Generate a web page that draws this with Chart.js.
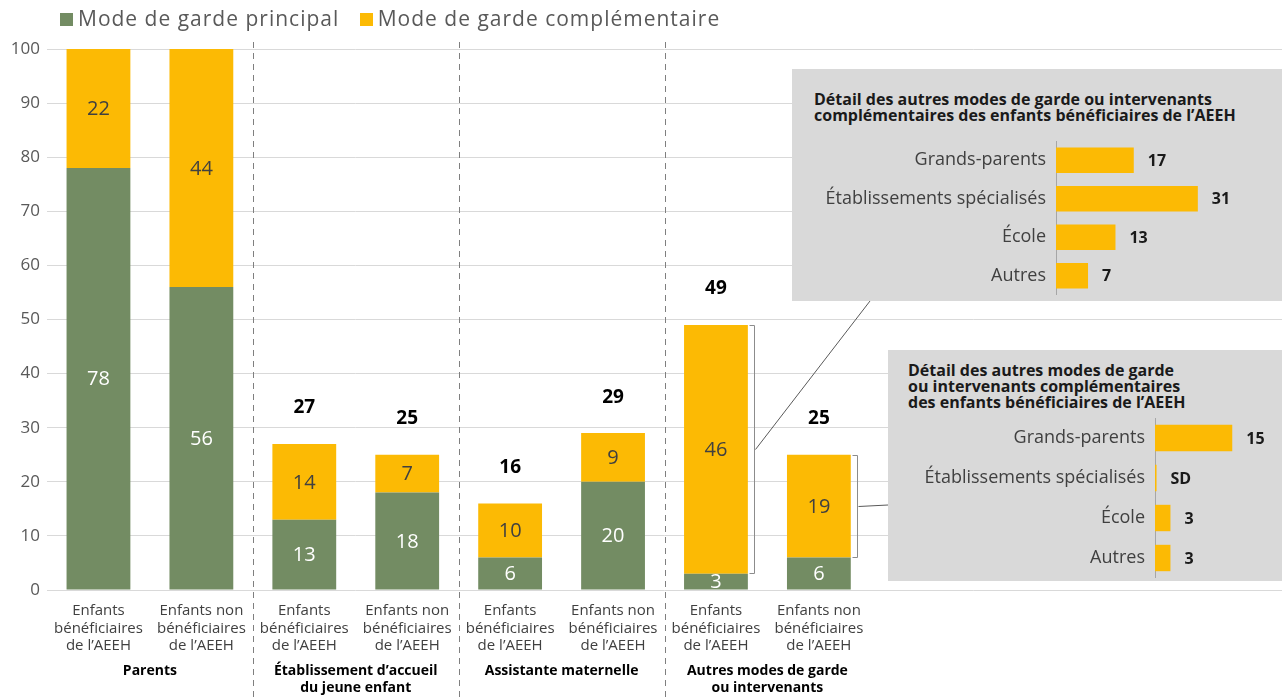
<!DOCTYPE html>
<html lang="fr">
<head>
<meta charset="utf-8">
<title>Modes de garde</title>
<script src="https://cdn.jsdelivr.net/npm/chart.js@4.4.0/dist/chart.umd.min.js"></script>
<style>
    body { margin: 0; background: #fff; font-family: "Open Sans", sans-serif; }
    #wrap { position: relative; width: 1282px; height: 697px; overflow: hidden; }
    #mainChart { position: absolute; left: 0; top: 0; }
    .legend { position: absolute; top: 4px; left: 60px; font-size: 21px; letter-spacing: 1px; color: #595959; white-space: nowrap; }
    .legend span.sw { display: inline-block; width: 13px; height: 13px; margin-right: 5px; vertical-align: 0px; }
    .legend span.item { margin-right: 14px; }
    .panel { position: absolute; background: #d9d9d9; }
    .panel .title { position: absolute; font-weight: 700; font-size: 16px; line-height: 16px; color: #1a1a1a; white-space: nowrap; }
    .panel canvas { position: absolute; left: 0; }
    #panel1 { left: 792px; top: 69px; width: 490px; height: 232px; }
    #panel1 .title { left: 22px; top: 22px; }
    #panel1 canvas { top: 72px; }
    #panel2 { left: 888px; top: 350px; width: 394px; height: 231px; }
    #panel2 .title { left: 20px; top: 12px; }
    #panel2 canvas { top: 68px; }
</style>
</head>
<body>
<div id="wrap">
    <canvas id="mainChart" width="1282" height="697"></canvas>
    <div class="legend">
        <span class="item"><span class="sw" style="background:#738c63"></span>Mode de garde principal</span>
        <span class="item"><span class="sw" style="background:#fcba04"></span>Mode de garde complémentaire</span>
    </div>
    <div class="panel" id="panel1">
        <div class="title">Détail des autres modes de garde ou intervenants<br>complémentaires des enfants bénéficiaires de l’AEEH</div>
        <canvas id="detail1" width="490" height="154"></canvas>
    </div>
    <div class="panel" id="panel2">
        <div class="title">Détail des autres modes de garde<br>ou intervenants complémentaires<br>des enfants bénéficiaires de l’AEEH</div>
        <canvas id="detail2" width="394" height="160"></canvas>
    </div>
</div>
<script>
// données du graphique principal
const categories = [
    ['Enfants', 'bénéficiaires', 'de l’AEEH'],
    ['Enfants non', 'bénéficiaires', 'de l’AEEH'],
    ['Enfants', 'bénéficiaires', 'de l’AEEH'],
    ['Enfants non', 'bénéficiaires', 'de l’AEEH'],
    ['Enfants', 'bénéficiaires', 'de l’AEEH'],
    ['Enfants non', 'bénéficiaires', 'de l’AEEH'],
    ['Enfants', 'bénéficiaires', 'de l’AEEH'],
    ['Enfants non', 'bénéficiaires', 'de l’AEEH']
];
const groupLabels = [
    ['Parents'],
    ['Établissement d’accueil', 'du jeune enfant'],
    ['Assistante maternelle'],
    ['Autres modes de garde', 'ou intervenants']
];
const principal = [78, 56, 13, 18, 6, 20, 3, 6];
const complementaire = [22, 44, 14, 7, 10, 9, 46, 19];
const totals = [null, null, 27, 25, 16, 29, 49, 25];
const emptySlots = 4; // place vide à droite (encadrés)

// données des encadrés
const detailLabels = ['Grands-parents', 'Établissements spécialisés', 'École', 'Autres'];
const detailBenef = [17, 31, 13, 7];
const detailBenefText = ['17', '31', '13', '7'];
const detailNonBenef = [15, 0.3, 3, 3];
const detailNonBenefText = ['15', 'SD', '3', '3'];

const GREEN = '#738c63';
const YELLOW = '#fcba04';
const FONT = '"Open Sans", sans-serif';

const pad = arr => arr.concat(new Array(emptySlots).fill(null));
const labels = pad(categories).map(l => l || '');

// étiquettes dans les barres + totaux
const barLabels = {
    id: 'barLabels',
    afterDatasetsDraw(chart) {
        const ctx = chart.ctx;
        const area = chart.chartArea;
        ctx.save();
        ctx.beginPath();
        ctx.rect(area.left, area.top - 60, area.right - area.left, area.bottom - area.top + 60);
        ctx.clip();
        ctx.textAlign = 'center';
        ctx.textBaseline = 'middle';
        ctx.font = '20px ' + FONT;
        chart.data.datasets.forEach((ds, di) => {
            const meta = chart.getDatasetMeta(di);
            ctx.fillStyle = di === 0 ? '#ffffff' : '#404040';
            meta.data.forEach((bar, i) => {
                const v = ds.data[i];
                if (v == null) return;
                ctx.fillText(String(v), bar.x, (bar.y + bar.base) / 2 + 1);
            });
        });
        // totaux
        const yScale = chart.scales.y;
        const top = chart.getDatasetMeta(1);
        ctx.font = 'bold 19px ' + FONT;
        ctx.fillStyle = '#000';
        totals.forEach((t, i) => {
            if (t == null) return;
            ctx.fillText(String(t), top.data[i].x, yScale.getPixelForValue(t) - 36);
        });
        ctx.restore();
    },
    afterDraw(chart) {
        const ctx = chart.ctx;
        const x = chart.scales.x;
        ctx.save();
        // séparateurs en pointillés
        ctx.strokeStyle = '#7f7f7f';
        ctx.lineWidth = 1;
        ctx.setLineDash([6, 5]);
        [1, 3, 5].forEach(i => {
            const sx = Math.round((x.getPixelForValue(i) + x.getPixelForValue(i + 1)) / 2) + 0.5;
            ctx.beginPath();
            ctx.moveTo(sx, 42);
            ctx.lineTo(sx, chart.height);
            ctx.stroke();
        });
        ctx.setLineDash([]);

        // libellés des groupes
        ctx.font = 'bold 14px ' + FONT;
        ctx.fillStyle = '#000';
        ctx.textAlign = 'center';
        ctx.textBaseline = 'middle';
        groupLabels.forEach((lines, g) => {
            const cx = (x.getPixelForValue(g * 2) + x.getPixelForValue(g * 2 + 1)) / 2;
            lines.forEach((line, k) => ctx.fillText(line, cx, 671 + k * 17));
        });

        // accolades + liens vers les encadrés
        const meta = chart.getDatasetMeta(1);
        const targets = [[870, 301], [888, 505]];
        [6, 7].forEach((i, k) => {
            const bar = meta.data[i];
            const bx = Math.round(bar.x + bar.width / 2 + 6) + 0.5;
            const t = Math.round(bar.y) + 0.5;
            const b = Math.round(bar.base) - 0.5;
            ctx.strokeStyle = '#8c8c8c';
            ctx.beginPath();
            ctx.moveTo(bx - 5, t);
            ctx.lineTo(bx, t);
            ctx.lineTo(bx, b);
            ctx.lineTo(bx - 5, b);
            ctx.stroke();
            ctx.strokeStyle = '#595959';
            ctx.beginPath();
            ctx.moveTo(bx + 1, (t + b) / 2);
            ctx.lineTo(targets[k][0], targets[k][1]);
            ctx.stroke();
        });
        ctx.restore();
    }
};

new Chart(document.getElementById('mainChart'), {
    type: 'bar',
    data: {
        labels: labels,
        datasets: [
            { label: 'Mode de garde principal', data: pad(principal), backgroundColor: GREEN },
            { label: 'Mode de garde complémentaire', data: pad(complementaire), backgroundColor: YELLOW }
        ]
    },
    options: {
        responsive: false,
        animation: false,
        categoryPercentage: 0.62,
        barPercentage: 1,
        layout: { padding: { top: 49, right: 0, left: 0, bottom: 0 } },
        plugins: { legend: { display: false }, tooltip: { enabled: false } },
        scales: {
            x: {
                stacked: true,
                grid: { display: false },
                border: { display: false },
                ticks: { color: '#404040', font: { family: FONT, size: 15, lineHeight: 1.17 }, padding: 4, maxRotation: 0, autoSkip: false },
                afterFit: s => { s.height = 107; }
            },
            y: {
                stacked: true,
                min: 0,
                max: 100,
                grid: { color: '#d9d9d9', drawTicks: false },
                border: { display: false },
                ticks: { stepSize: 10, color: '#595959', font: { family: FONT, size: 17 }, padding: 7 },
                afterFit: s => { s.width = 47; }
            }
        }
    },
    plugins: [barLabels]
});

function makeDetail(id, values, texts, maxX, labelWidth, padRight) {
    const valueLabels = {
        id: 'valueLabels',
        afterDatasetsDraw(chart) {
            const ctx = chart.ctx;
            ctx.save();
            ctx.font = 'bold 16px ' + FONT;
            ctx.fillStyle = '#1a1a1a';
            ctx.textBaseline = 'middle';
            chart.getDatasetMeta(0).data.forEach((bar, i) => {
                ctx.fillText(texts[i], bar.x + 14, bar.y + 1);
            });
            ctx.restore();
        }
    };
    new Chart(document.getElementById(id), {
        type: 'bar',
        data: {
            labels: detailLabels,
            datasets: [{ data: values, backgroundColor: YELLOW, categoryPercentage: 0.66, barPercentage: 1 }]
        },
        options: {
            indexAxis: 'y',
            responsive: false,
            animation: false,
            layout: { autoPadding: false, padding: { right: padRight, top: 0, bottom: 0, left: 0 } },
            plugins: { legend: { display: false }, tooltip: { enabled: false } },
            scales: {
                x: { min: 0, max: maxX, display: false },
                y: {
                    grid: { display: false, drawTicks: false },
                    border: { display: true, color: '#a6a6a6' },
                    ticks: { color: '#404040', font: { family: FONT, size: 18 }, padding: 10 },
                    afterFit: s => {
                        s.width = labelWidth;
                        s.paddingTop = 0;
                        s.paddingBottom = 0;
                    }
                }
            }
        },
        plugins: [valueLabels]
    });
}

makeDetail('detail1', detailBenef, detailBenefText, 40, 264, 43);
makeDetail('detail2', detailNonBenef, detailNonBenefText, 20, 267, 24);
</script>
</body>
</html>
